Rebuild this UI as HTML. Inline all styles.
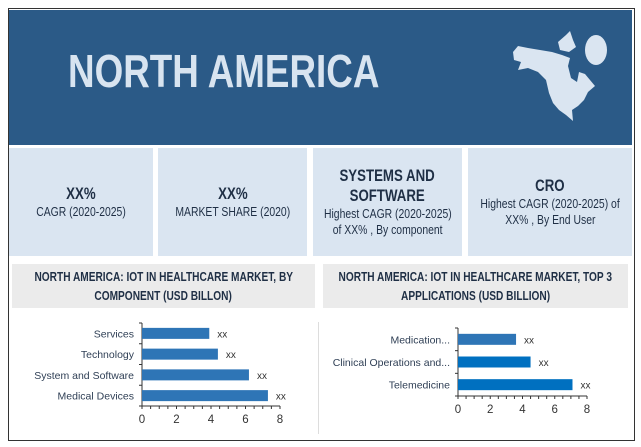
<!DOCTYPE html>
<html><head><meta charset="utf-8"><style>
body{margin:0;background:#fff;width:641px;height:447px;overflow:hidden;font-family:"Liberation Sans",sans-serif;}
.abs{position:absolute}
.box{position:absolute;top:148px;height:108px;background:#DAE5F1;color:#1F2F45;text-align:center;display:flex;flex-direction:column;justify-content:center;align-items:center;}
.big{font-size:17px;font-weight:bold;transform:scaleX(0.78);white-space:nowrap;line-height:20px}
.small{font-size:13px;transform:scaleX(0.8);white-space:nowrap;line-height:16px}
.gt{position:absolute;top:264px;height:44px;background:#EBEBEB;color:#1F2F45;font-size:13px;font-weight:bold;text-align:center;display:flex;flex-direction:column;align-items:center;justify-content:center;line-height:19px}
.gt div{white-space:nowrap;transform:scaleX(0.78)}
</style></head><body>
<div class="abs" style="left:8px;top:8px;width:625px;height:431px;border:1px solid #333;"></div>
<div class="abs" style="left:9px;top:10px;width:623px;height:135px;background:#2B5A87;"></div>
<div class="abs" style="left:68px;top:44px;font-size:46px;font-weight:bold;color:#D8E4F0;transform:scaleX(0.8);transform-origin:left top;white-space:nowrap;">NORTH AMERICA</div>
<svg class="abs" style="left:0;top:0" width="641" height="150">
<polygon fill="#DAE5F1" points="513,52 518,46 528,48 540,50 552,52 562,55 570,58 568,66 571,78 577,82 579,72 585,74 590,80 595,86 588,92 584,100 578,106 572,110 573,121 566,115 559,110 553,103 549,93 546,80 538,72 528,68 518,70 521,62 514,60"/>
<ellipse cx="596" cy="50" rx="11" ry="15" fill="#DAE5F1"/>
<polygon fill="#DAE5F1" points="558,42 566,35 570,31 573,40 576,47 569,52 560,50"/>
</svg>
<div class="box" style="left:9px;width:144px"><div class="big">XX%</div><div class="small">CAGR (2020-2025)</div></div>
<div class="box" style="left:158px;width:149px"><div class="big">XX%</div><div class="small">MARKET SHARE (2020)</div></div>
<div class="box" style="left:313px;width:149px"><div class="big">SYSTEMS AND</div><div class="big">SOFTWARE</div><div class="small">Highest CAGR (2020-2025)</div><div class="small">of XX% , By component</div></div>
<div class="box" style="left:468px;width:164px"><div class="big">CRO</div><div class="small">Highest CAGR (2020-2025) of</div><div class="small">XX% , By End User</div></div>
<div class="gt" style="left:12px;width:303px"><div>NORTH AMERICA: IOT IN HEALTHCARE MARKET, BY</div><div>COMPONENT (USD BILLON)</div></div>
<div class="gt" style="left:323px;width:305px"><div>NORTH AMERICA: IOT IN HEALTHCARE MARKET, TOP 3</div><div>APPLICATIONS (USD BILLION)</div></div>
<div class="abs" style="left:318px;top:322px;width:1px;height:112px;background:#ddd"></div>
<svg id="c" class="abs" style="left:0;top:0" width="641" height="447"></svg>
<script>
const leftCats=["Services","Technology","System and Software","Medical Devices"];
const leftVals=[3.9,4.4,6.2,7.3];
const rightCats=["Medication...","Clinical Operations and...","Telemedicine"];
const rightVals=[3.6,4.5,7.1];
const ticks=[0,2,4,6,8];
const svg=document.getElementById('c');
const NS='http://www.w3.org/2000/svg';
function mk(t,a){const e=document.createElementNS(NS,t);for(const k in a)e.setAttribute(k,a[k]);svg.appendChild(e);return e;}
function chart(cats,vals,x0,x1,yTop,yBot,colors,pre){
 const sx=v=>x0+(x1-x0)*v/8;
 const n=cats.length,band=(yBot-yTop)/n;
 let ax=mk('line',{x1:x0,y1:yTop,x2:x0,y2:yBot,stroke:'#333'});
 
 let bx=mk('line',{x1:x0,y1:yBot,x2:x1,y2:yBot,stroke:'#333'});
 
 for(let i=0;i<=n;i++)mk('line',{x1:x0-3,x2:x0,y1:yTop+band*i,y2:yTop+band*i,stroke:'#333'});
 for(let v=0;v<=8;v+=0.5)mk('line',{x1:sx(v),x2:sx(v),y1:yBot,y2:yBot+3,stroke:'#333'});
 ticks.forEach(t=>{const e=mk('text',{x:sx(t),y:yBot+17,'text-anchor':'middle','font-size':11.5,fill:'#333','font-family':'Liberation Sans, sans-serif'});e.textContent=t;
  });
 cats.forEach((c,i)=>{const yc=yTop+band*(i+0.5);
  const r=mk('rect',{x:x0,y:yc-5.5,width:sx(vals[i])-x0,height:11,fill:colors[i]});
  
  const l=mk('text',{x:x0-8,y:yc+4,'text-anchor':'end','font-size':10.5,fill:'#2F3F55','font-family':'Liberation Sans, sans-serif'});l.textContent=c;
  
  const d=mk('text',{x:sx(vals[i])+8,y:yc+4,'font-size':10,fill:'#333','font-family':'Liberation Sans, sans-serif'});d.textContent='xx';
  });
}
chart(leftCats,leftVals,142,280,323,406,['#2E75B6','#2E75B6','#2E75B6','#2E75B6'],'component');
chart(rightCats,rightVals,458,587,328,396,['#2E75B6','#0070C0','#0070C0'],'application');
</script>
</body></html>
